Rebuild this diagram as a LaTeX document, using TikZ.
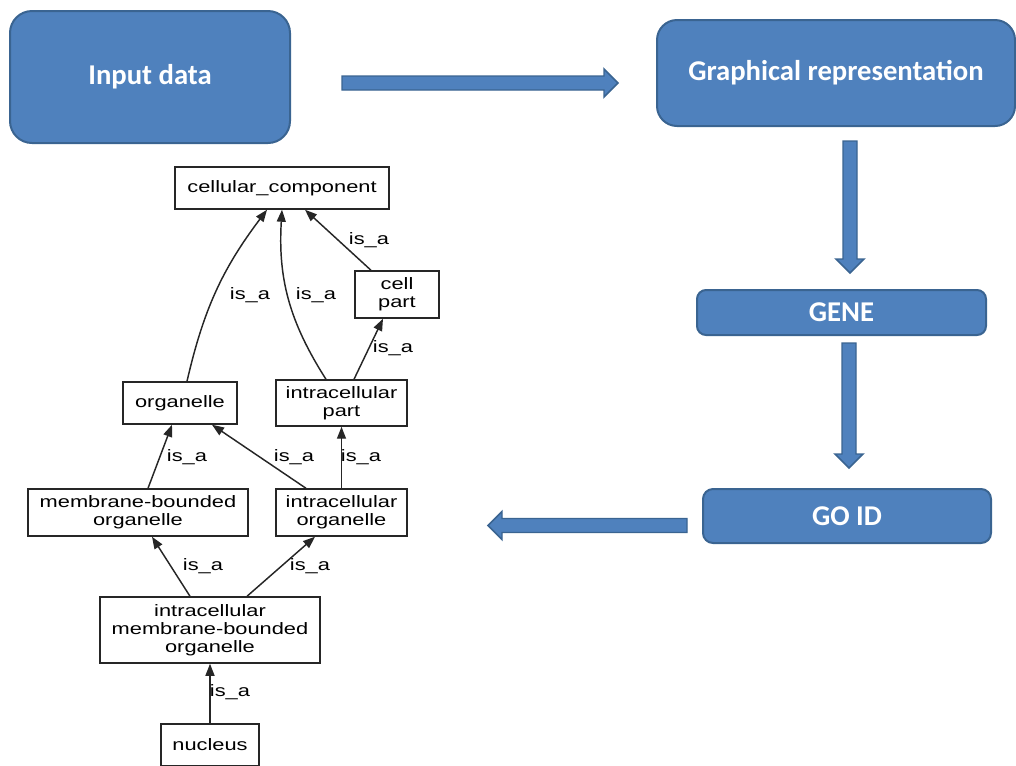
\documentclass[tikz,border=0pt]{standalone}
\usepackage{fontspec}
\usetikzlibrary{arrows.meta, calc}
\newfontfamily\gvfont[FakeStretch=1.32]{Liberation Sans}
\newfontfamily\boxfont{Carlito}
\definecolor{boxfill}{HTML}{4F81BD}
\definecolor{boxedge}{HTML}{3A6491}

\tikzset{
	gvbox/.style = {draw = black!85, line width = 1.1pt, align = center, inner sep = 0pt, font = \gvfont\fontsize{12.4}{13.7}\selectfont},
	elabel/.style = {inner sep = 0pt, font = \gvfont\fontsize{12.4}{13.7}\selectfont},
	isa/.style = {draw = black!85, line width = 1.1pt, -{Triangle[length = 9pt, width = 6.75pt]}},
	bluebox/.style = {draw = boxedge, line width = 1.5pt, fill = boxfill, text = white, font = \boxfont\bfseries\fontsize{21.5}{24}\selectfont},
	pics/blockarrow/.style = {code = {
		\draw[draw = boxedge, fill = boxfill, line width = 1.1pt] (0, -7) -- (#1-14, -7) -- (#1-14, -14) -- (#1, 0) -- (#1-14, 14) -- (#1-14, 7) -- (0, 7) -- cycle;
	}}
}

\begin{document}
\begin{tikzpicture}[x = 0.75pt, y = -0.75pt]
		\useasboundingbox (0, 0) rectangle (1016, 765);
		% blue flow boxes
		\node[bluebox, rounded corners = 16.5pt, minimum width = 210pt, minimum height = 99pt] (input) at (150, 77) {Input data};
		\node[bluebox, rounded corners = 15pt, minimum width = 268.5pt, minimum height = 79.5pt] (graphrep) at (836, 73) {Graphical representation};
		\node[bluebox, rounded corners = 6.75pt, minimum width = 216.75pt, minimum height = 33.75pt] (gene) at (841.5, 312.5) {GENE};
		\node[bluebox, rounded corners = 7.5pt, minimum width = 216pt, minimum height = 40.5pt] (goid) at (847, 516) {GO ID};
		\pic at (342, 83) {blockarrow = 276};
		\pic[rotate = -90] at (850, 141) {blockarrow = 132};
		\pic[rotate = -90] at (849, 343) {blockarrow = 125};
		\pic[rotate = 180] at (687, 525.5) {blockarrow = 199};
		% GO graph
		\node[gvbox, minimum width = 160.5pt, minimum height = 31.5pt] (cc) at (282, 188) {cellular\_component};
		\node[gvbox, minimum width = 63pt, minimum height = 35.25pt] (cellpart) at (397, 294.5) {cell\\part};
		\node[gvbox, minimum width = 85.5pt, minimum height = 31.5pt] (organelle) at (180, 403) {organelle};
		\node[gvbox, minimum width = 98.25pt, minimum height = 34.5pt] (icpart) at (341.5, 403) {intracellular\\part};
		\node[gvbox, minimum width = 165pt, minimum height = 35.25pt] (mbo) at (138, 512.5) {membrane-bounded\\organelle};
		\node[gvbox, minimum width = 98.25pt, minimum height = 35.25pt] (io) at (341.5, 512.5) {intracellular\\organelle};
		\node[gvbox, minimum width = 165pt, minimum height = 49.5pt] (imbo) at (210, 630) {intracellular\\membrane-bounded\\organelle};
		\node[gvbox, minimum width = 73.5pt, minimum height = 31.5pt] (nucleus) at (210, 745) {nucleus};
		\draw[isa] ($(organelle.north) + (7, 0)$) to[bend left = 12] ($(cc.south) + (-15, 0)$);
		\draw[isa] ($(icpart.north) + (-15.5, 0)$) to[bend left = 18] (cc.south);
		\draw[isa] ($(cellpart.north) + (-26, 0)$) -- ($(cc.south) + (23, 0)$);
		\draw[isa] ($(icpart.north) + (12.5, 0)$) -- ($(cellpart.south) + (-14, 0)$);
		\draw[isa] ($(mbo.north) + (10, 0)$) -- ($(organelle.south) + (-8, 0)$);
		\draw[isa] ($(io.north) + (-35.5, 0)$) -- ($(organelle.south) + (32, 0)$);
		\draw[isa] (io.north) -- (icpart.south);
		\draw[isa] ($(imbo.north) + (-20, 0)$) -- ($(mbo.south) + (14, 0)$);
		\draw[isa] ($(imbo.north) + (37, 0)$) -- ($(io.south) + (-26.5, 0)$);
		\draw[isa] (nucleus.north) -- (imbo.south);
		\node[elabel] (l1) at (250, 295) {is\_a};
		\node[elabel] (l2) at (316, 295) {is\_a};
		\node[elabel] (l3) at (369, 240) {is\_a};
		\node[elabel] (l4) at (393, 348) {is\_a};
		\node[elabel] (l5) at (187, 457) {is\_a};
		\node[elabel] (l6) at (294, 457) {is\_a};
		\node[elabel] (l7) at (361, 457) {is\_a};
		\node[elabel] (l8) at (203, 566) {is\_a};
		\node[elabel] (l9) at (310, 566) {is\_a};
		\node[elabel] (l10) at (230, 692) {is\_a};
	\end{tikzpicture}
\end{document}
